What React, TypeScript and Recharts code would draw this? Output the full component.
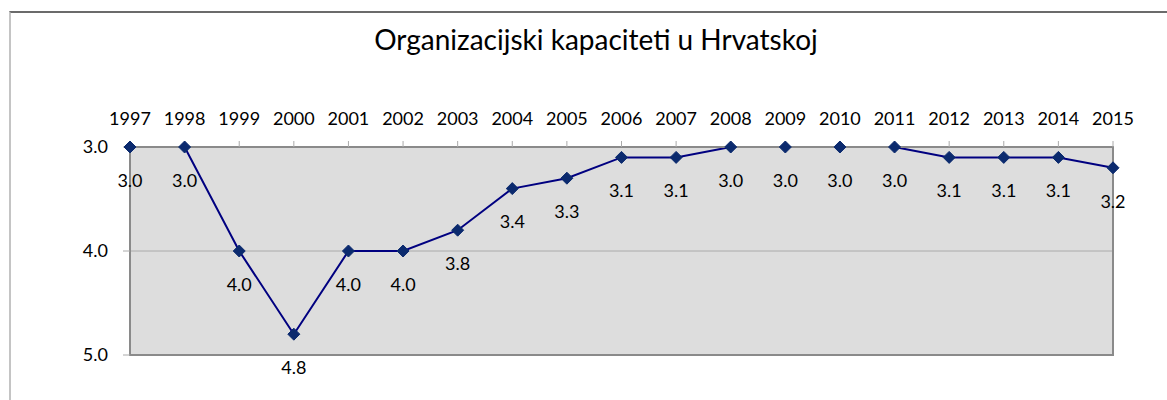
import React from 'react';
import {
  LineChart, Line, XAxis, YAxis, CartesianGrid, ReferenceArea, LabelList,
} from 'recharts';

const years = [1997, 1998, 1999, 2000, 2001, 2002, 2003, 2004, 2005, 2006, 2007, 2008, 2009, 2010, 2011, 2012, 2013, 2014, 2015];
const scores = [3.0, 3.0, 4.0, 4.8, 4.0, 4.0, 3.8, 3.4, 3.3, 3.1, 3.1, 3.0, 3.0, 3.0, 3.0, 3.1, 3.1, 3.1, 3.2];
const yTicks = [3, 4, 5];

const data = years.map((year, i) => ({ year, score: scores[i] }));

const FONT = 'Lato, "Open Sans", sans-serif';

const Diamond = (props: any) => {
  const { cx, cy } = props;
  if (cx == null || cy == null) return null;
  const r = 6;
  return (
    <polygon
      points={`${cx},${cy - r} ${cx + r},${cy} ${cx},${cy + r} ${cx - r},${cy}`}
      fill="#0b2a6e"
      stroke="#0b2a6e"
      strokeWidth={1}
    />
  );
};

export default function App() {
  return (
    <div style={{ position: 'absolute', left: 0, top: 0, width: 1167, height: 400, background: '#fff', fontFamily: FONT }}>
      <div style={{ position: 'absolute', left: 9, top: 11, right: 0, bottom: 0, borderTop: '2px solid #6b6b6b', borderLeft: '2px solid #c4c4c4' }} />
      <div style={{ position: 'absolute', left: 0, width: 1192, top: 22, textAlign: 'center', fontSize: 28, color: '#000' }}>
        Organizacijski kapaciteti u Hrvatskoj
      </div>
      <div style={{ position: 'absolute', left: 0, top: 0 }}>
        <LineChart width={1167} height={400} data={data} margin={{ top: 117, right: 54, bottom: 45, left: 70 }}>
          <CartesianGrid vertical={false} fill="#dddddd" stroke="#aaaaaa" fillOpacity={1} />
          <ReferenceArea x1={1997} x2={2015} y1={3} y2={5} fill="none" stroke="#8a8a8a" strokeWidth={2} ifOverflow="visible" />
          <XAxis
            dataKey="year"
            type="number"
            domain={[1997, 2015]}
            ticks={years}
            orientation="top"
            height={30}
            axisLine={{ stroke: '#8a8a8a', strokeWidth: 2 }}
            tickLine={{ stroke: '#aaaaaa' }}
            tickSize={6}
            tickMargin={16}
            tick={{ fill: '#000', fontSize: 18, fontFamily: FONT }}
            interval={0}
          />
          <YAxis
            reversed
            type="number"
            domain={[3, 5]}
            ticks={yTicks}
            width={60}
            axisLine={{ stroke: '#8a8a8a', strokeWidth: 2 }}
            tickLine={{ stroke: '#aaaaaa' }}
            tickSize={7}
            tickMargin={15}
            tickFormatter={(v: number) => v.toFixed(1)}
            tick={{ fill: '#000', fontSize: 18, fontFamily: FONT }}
          />
          <Line
            dataKey="score"
            type="linear"
            stroke="#000080"
            strokeWidth={2}
            dot={<Diamond />}
            activeDot={false}
            isAnimationActive={false}
          >
            <LabelList
              dataKey="score"
              position="bottom"
              offset={27}
              formatter={(v: number) => v.toFixed(1)}
              style={{ fill: '#000', fontSize: 18, fontFamily: FONT }}
            />
          </Line>
        </LineChart>
      </div>
    </div>
  );
}
